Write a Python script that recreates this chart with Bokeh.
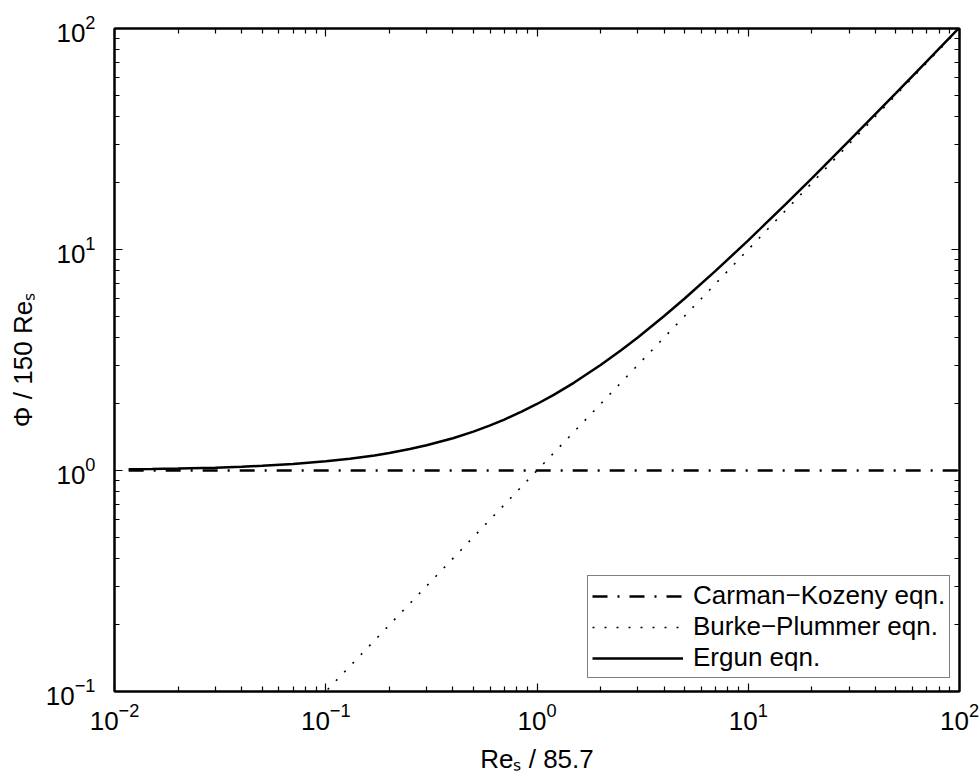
from bokeh.plotting import figure
from bokeh.models import (Range1d, LogAxis, FixedTicker, Legend, LegendItem,
                          CustomJSTickFormatter, LogTickFormatter)
from bokeh.embed import file_html
from bokeh.resources import INLINE

# ---------------- data ----------------
# Carman-Kozeny: constant 1
ck_x = [0.01167, 100.0]
ck_y = [1.0, 1.0]
# Burke-Plummer: proportional to Re
bp_x = [0.01167, 100.0]
bp_y = [0.01167, 100.0]
# Ergun: sum of both
er_x = [0.01167, 0.015, 0.02, 0.03, 0.04, 0.05, 0.07, 0.1, 0.13, 0.17, 0.2, 0.25,
        0.3, 0.4, 0.5, 0.6, 0.7, 0.85, 1.0, 1.2, 1.5, 2.0, 2.5, 3.0, 4.0, 5.0,
        7.0, 10.0, 15.0, 20.0, 30.0, 50.0, 70.0, 100.0]
er_y = [1.012, 1.015, 1.02, 1.03, 1.04, 1.05, 1.07, 1.1, 1.13, 1.17, 1.2, 1.25,
        1.3, 1.4, 1.5, 1.6, 1.7, 1.85, 2.0, 2.2, 2.5, 3.0, 3.5, 4.0, 5.0, 6.0,
        8.0, 11.0, 16.0, 21.0, 31.0, 51.0, 71.0, 101.0]

series_names = ["Carman−Kozeny eqn.", "Burke−Plummer eqn.", "Ergun eqn."]

x_ticks = [0.01, 0.1, 1.0, 10.0, 100.0]
y_ticks = [0.1, 1.0, 10.0, 100.0]

x_title = "Reₛ / 85.7"
y_title = "Φ / 150 Reₛ"

# ---------------- figure ----------------
FONT = "Liberation Sans"
FS = "26px"

p = figure(width=980, height=776, x_axis_type="log", y_axis_type="log",
           x_range=Range1d(0.01, 100), y_range=Range1d(0.1, 100),
           output_backend="svg", toolbar_location=None,
           min_border_left=114, min_border_right=21, min_border_top=28,
           min_border_bottom=83)
p.grid.visible = False
p.outline_line_color = "black"
p.outline_line_width = 2
p.background_fill_color = "white"
p.border_fill_color = "white"

x_minor = [k * 10.0 ** e for e in range(-2, 2) for k in range(2, 10)]
y_minor = [k * 10.0 ** e for e in range(-1, 2) for k in range(2, 10)]


def style_axis(ax, ticks, minor, labels):
    ax.ticker = FixedTicker(ticks=ticks, minor_ticks=minor)
    ax.major_tick_in = 8
    ax.major_tick_out = 0
    ax.minor_tick_in = 5
    ax.minor_tick_out = 0
    ax.major_tick_line_width = 1.2
    ax.minor_tick_line_width = 1.2
    ax.major_tick_line_color = "black"
    ax.minor_tick_line_color = "black"
    ax.axis_line_width = 2
    ax.axis_line_color = "black"
    if labels:
        ax.formatter = LogTickFormatter()
        ax.major_label_text_font = FONT
        ax.major_label_text_font_size = FS
        ax.major_label_text_color = "black"
        ax.axis_label_text_font = FONT
        ax.axis_label_text_font_size = FS
        ax.axis_label_text_font_style = "normal"
        ax.axis_label_text_color = "black"
    else:
        ax.formatter = CustomJSTickFormatter(code="return '';")
        ax.major_label_standoff = 0
        ax.major_label_text_font_size = "1px"


style_axis(p.xaxis[0], x_ticks, x_minor, True)
style_axis(p.yaxis[0], y_ticks, y_minor, True)
p.xaxis[0].major_label_standoff = 11
p.xaxis[0].axis_label = x_title
p.xaxis[0].axis_label_standoff = 11
p.yaxis[0].major_label_standoff = 19
p.yaxis[0].axis_label = y_title
p.yaxis[0].axis_label_standoff = 5

top = LogAxis()
right = LogAxis()
style_axis(top, x_ticks, x_minor, False)
style_axis(right, y_ticks, y_minor, False)
p.add_layout(top, "above")
p.add_layout(right, "right")

# ---------------- lines ----------------
r_ck = p.line(ck_x, ck_y, line_color="black", line_width=2.5, line_dash="15 10 2 10")
r_bp = p.line(bp_x, bp_y, line_color="black", line_width=1.6, line_dash="2 10")
r_er = p.line(er_x, er_y, line_color="black", line_width=2.5)

legend = Legend(items=[LegendItem(label=series_names[0], renderers=[r_ck]),
                       LegendItem(label=series_names[1], renderers=[r_bp]),
                       LegendItem(label=series_names[2], renderers=[r_er])],
                location=(473, 13), margin=0, padding=4, spacing=0,
                glyph_width=91, glyph_height=28, label_height=28, label_standoff=10,
                label_text_font=FONT, label_text_font_size=FS,
                label_text_color="black",
                border_line_color="black", border_line_width=1.5,
                background_fill_color="white", background_fill_alpha=1.0)
p.add_layout(legend)

open("out.html", "w").write(file_html(p, INLINE))
